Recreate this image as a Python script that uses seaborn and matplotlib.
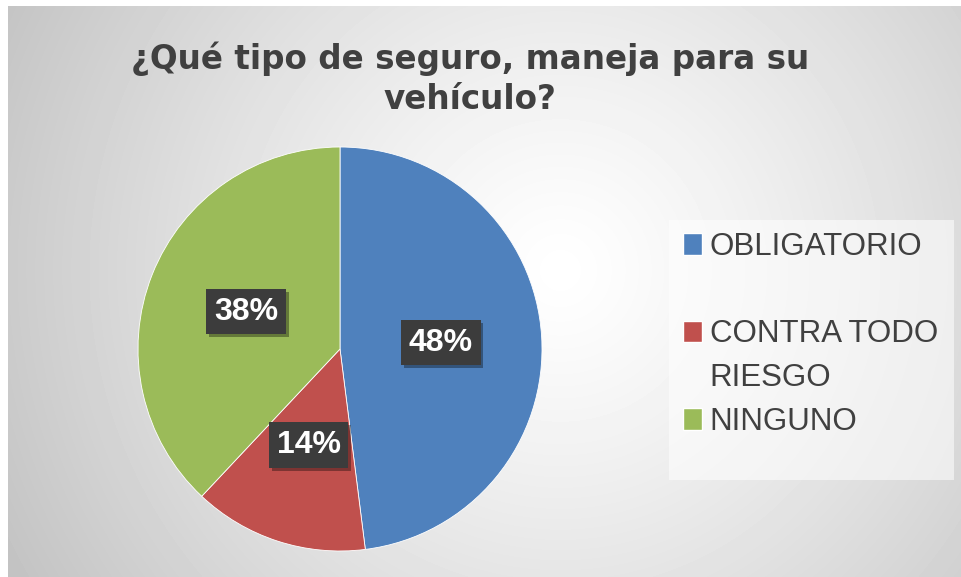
import numpy as np
import matplotlib.pyplot as plt
import matplotlib.patheffects as pe
from matplotlib.patches import Rectangle, Patch
import seaborn as sns

TITLE = '¿Qué tipo de seguro, maneja para su\nvehículo?'
categorias = ['OBLIGATORIO', 'CONTRA TODO\nRIESGO', 'NINGUNO']
porcentajes = [48, 14, 38]
colores = ['#4F81BD', '#C0504D', '#9BBB59']

sns.set_theme(style='white')
plt.rcParams['font.family'] = ['Liberation Sans', 'DejaVu Sans']

W, H = 961, 577
fig = plt.figure(figsize=(W / 100, H / 100), dpi=100)
fig.patch.set_facecolor('white')

# fondo: degradado radial gris claro
bg = fig.add_axes([8 / W, 0, 1 - 8 / W, 1 - 6 / H])
yy, xx = np.mgrid[6:H, 8:W]
d = np.hypot(xx - 560, yy - 270) / 612
shade = 1 - 0.23 * np.clip(d, 0, 1.3) ** 1.2
bg.imshow(shade, cmap='gray', vmin=0, vmax=1, aspect='auto',
          interpolation='bilinear')
bg.set_axis_off()

# pastel
ax = fig.add_axes([138 / W, 26 / H, 404 / W, 404 / H])
palette = sns.color_palette(colores)
wedges, _, autotexts = ax.pie(
    porcentajes, colors=palette, startangle=90, counterclock=False,
    autopct=lambda p: f'{p:.0f}%', pctdistance=0.5,
    wedgeprops=dict(edgecolor='white', linewidth=0.6),
    textprops=dict(color='white', fontsize=23, fontweight='bold'))
ax.set_xlim(-1, 1)
ax.set_ylim(-1, 1)

for t in autotexts:
    t.set_bbox(dict(boxstyle='square,pad=0.24', facecolor='#3c3c3c',
                    linewidth=0))
    t.get_bbox_patch().set_path_effects(
        [pe.withSimplePatchShadow(offset=(2, -2), shadow_rgbFace='black',
                                  alpha=0.35)])

fig.text(470 / W, 1 - 41 / H, TITLE, ha='center', va='top', fontsize=23.5,
         fontweight='bold', color='#404040', family='DejaVu Sans',
         linespacing=1.28)

# leyenda
fig.add_artist(Rectangle((669 / W, 1 - 480 / H), (954 - 669) / W, 260 / H,
                         transform=fig.transFigure, facecolor='white',
                         alpha=0.55, edgecolor='none'))
etiquetas = []
manijas = []
for cat, col in zip(categorias, colores):
    for i, linea in enumerate(cat.split('\n')):
        etiquetas.append(linea)
        manijas.append(Patch(facecolor=col) if i == 0 else
                       Patch(facecolor='none', edgecolor='none'))
    if cat == categorias[0]:
        etiquetas.append('')
        manijas.append(Patch(facecolor='none', edgecolor='none'))

fig.legend(manijas, etiquetas, loc='upper left',
           bbox_to_anchor=(683 / W, 1 - 232 / H), frameon=False,
           fontsize=22.5, handlelength=0.6, handleheight=0.7,
           handletextpad=0.25, labelspacing=0.44, borderpad=0,
           borderaxespad=0, labelcolor='#404040')

fig.savefig('out.png', dpi=100)
